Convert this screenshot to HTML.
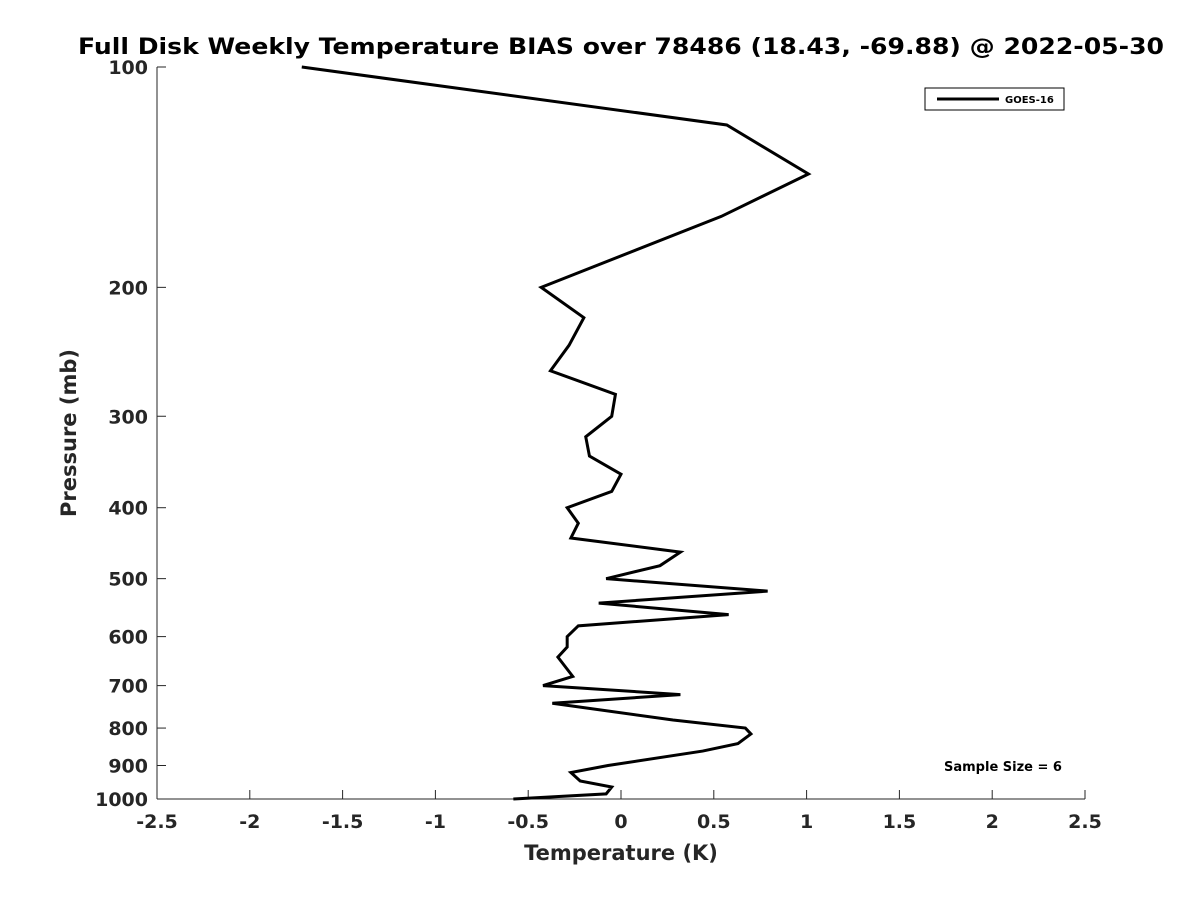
<!DOCTYPE html>
<html><head><meta charset="utf-8"><style>
body{margin:0;background:#fff;}
svg text{font-family:"DejaVu Sans","Liberation Sans",sans-serif;}
</style></head><body>
<svg id="chart" width="1200" height="900" xmlns="http://www.w3.org/2000/svg">
<rect width="1200" height="900" fill="#fff"/>
<text x="621" y="54" text-anchor="middle" font-size="22" font-weight="bold" fill="#000" textLength="1086" lengthAdjust="spacingAndGlyphs">Full Disk Weekly Temperature BIAS over 78486 (18.43, -69.88) @ 2022-05-30</text>
<g id="axes"></g>
<polyline id="series" fill="none" stroke="#000" stroke-width="3" stroke-linejoin="miter"/>
<g>
<rect x="925" y="88" width="139" height="22" fill="#fff" stroke="#000" stroke-width="1"/>
<line x1="937" y1="99" x2="999" y2="99" stroke="#000" stroke-width="3"/>
<text x="1005" y="103" font-size="10" font-weight="bold">GOES-16</text>
</g>
<text x="1003" y="771" text-anchor="middle" font-size="13" font-weight="bold">Sample Size = 6</text>
<text x="621" y="860" text-anchor="middle" font-size="21" font-weight="bold" fill="#262626">Temperature (K)</text>
<text transform="translate(76,433) rotate(-90)" text-anchor="middle" font-size="21" font-weight="bold" fill="#262626">Pressure (mb)</text>
</svg>
<script>
const temps=[-1.72,0.57,1.01,0.54,-0.43,-0.20,-0.28,-0.38,-0.03,-0.05,-0.19,-0.17,0.0,-0.05,-0.29,-0.23,-0.27,0.32,0.21,-0.08,0.79,-0.12,0.58,-0.23,-0.29,-0.29,-0.34,-0.26,-0.42,0.32,-0.37,0.28,0.67,0.70,0.63,0.44,-0.07,-0.27,-0.22,-0.05,-0.08,-0.58];
const pressures=[100,120,140,160,200,220,240,260,280,300,320,340,360,380,400,420,440,460,480,500,520,540,560,580,600,620,640,680,700,720,740,780,800,815,840,860,900,920,945,963,984,1000];
const xTicks=[-2.5,-2,-1.5,-1,-0.5,0,0.5,1,1.5,2,2.5];
const xTickLabels=["-2.5","-2","-1.5","-1","-0.5","0","0.5","1","1.5","2","2.5"];
const yTicks=[100,200,300,400,500,600,700,800,900,1000];
const yTickLabels=["100","200","300","400","500","600","700","800","900","1000"];
const X0=157,X1=1085,Y0=67,Y1=799;
function xs(v){return X0+(v+2.5)/5*(X1-X0);}
function ys(p){return Y0+Math.log10(p/100)*(Y1-Y0);}
const NS="http://www.w3.org/2000/svg";
const ax=document.getElementById('axes');
function mk(t,a){const e=document.createElementNS(NS,t);for(const k in a)e.setAttribute(k,a[k]);return e;}
const xl=mk('line',{x1:X0,y1:Y1,x2:X1,y2:Y1,stroke:'#262626','stroke-width':1});


ax.appendChild(xl);
const yl=mk('line',{x1:X0,y1:Y0,x2:X0,y2:Y1,stroke:'#262626','stroke-width':1});


ax.appendChild(yl);
xTicks.forEach((v,i)=>{const x=xs(v);
const t=mk('line',{x1:x,y1:Y1,x2:x,y2:Y1-9,stroke:'#262626'});


ax.appendChild(t);
const l=mk('text',{x:x,y:Y1+29,'text-anchor':'middle','font-size':19,'font-weight':'bold',fill:'#262626'});l.textContent=xTickLabels[i];


ax.appendChild(l);});
yTicks.forEach((v,i)=>{const y=ys(v);
const t=mk('line',{x1:X0,y1:y,x2:X0+9,y2:y,stroke:'#262626'});


ax.appendChild(t);
const l=mk('text',{x:X0-9,y:y+7,'text-anchor':'end','font-size':19,'font-weight':'bold',fill:'#262626'});l.textContent=yTickLabels[i];


ax.appendChild(l);});
document.getElementById('series').setAttribute('points',temps.map((t,i)=>xs(t)+','+ys(pressures[i])).join(' '));
</script>
</body></html>
